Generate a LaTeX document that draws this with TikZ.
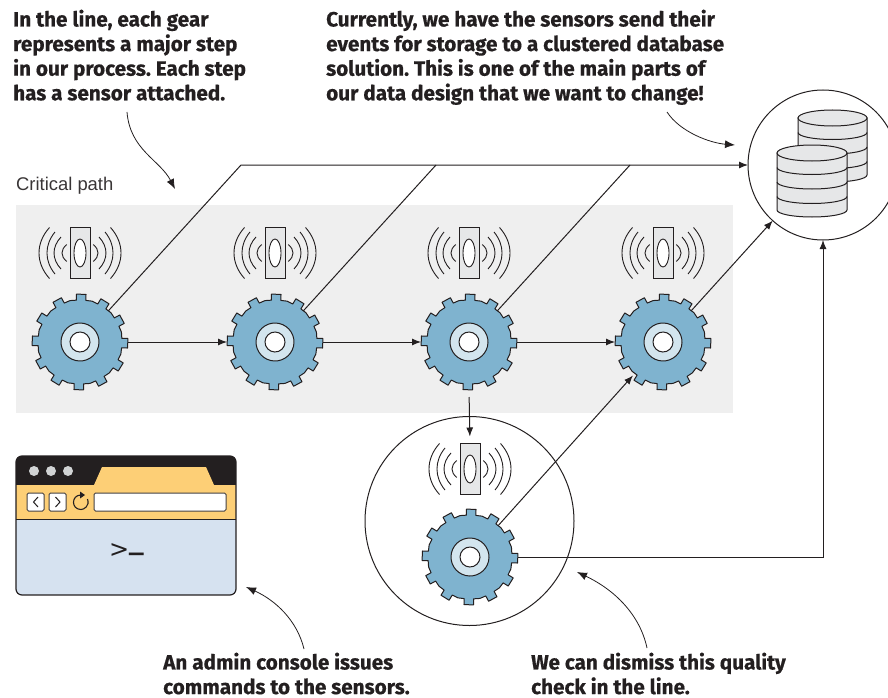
\documentclass[tikz,border=0pt]{standalone}
\usepackage{fontspec}
\setmainfont{Liberation Sans}
\newfontfamily\notefont[BoldFeatures={FakeBold=0.5}]{Fira Sans}
\newfontfamily\promptfont{DejaVu Sans}
\usetikzlibrary{arrows.meta,calc,shapes.geometric}
\definecolor{ink}{HTML}{231F20}
\definecolor{band}{HTML}{EFEFEF}
\definecolor{gearblue}{HTML}{7FB3CF}
\definecolor{hubblue}{HTML}{D3E5EE}
\definecolor{sensorgrey}{HTML}{E6E7E8}
\definecolor{tan}{HTML}{FDCF76}
\definecolor{paneblue}{HTML}{D6E2F0}
\definecolor{dotgrey}{HTML}{D1D3D4}
\tikzset{
  x=1pt,y=-1pt,
  line/.style={draw=ink,line width=1pt},
  flow/.style={line,-{Latex[length=9pt,width=7pt]}},
  callout/.style={draw=ink,line width=0.8pt,-{Latex[length=10pt,width=8pt]}},
  note/.style={font=\notefont\bfseries\frenchspacing\fontsize{20.7}{24.6}\selectfont,text=ink,anchor=north west,align=left,inner sep=0pt},
  gearspot/.style={circle,minimum size=96pt,inner sep=0pt,outer sep=0pt},
  sensorbox/.style={rectangle,draw=ink,line width=1pt,fill=sensorgrey,minimum width=20pt,minimum height=51pt,inner sep=0pt,outer sep=0pt},
  waves/.style={draw=ink,line width=0.9pt},
  browserline/.style={draw=ink!85,line width=1pt},
}
\newcommand{\gearspotat}[3]{\node[gearspot] (#1) at (#2,#3) {};}
\newcommand{\drawgear}[1]{%
  \begin{scope}[shift={(#1.center)},rotate=-1.5]
    \draw[draw=ink,line width=1pt,fill=gearblue,line join=round]
      (-6.5:42) \foreach \a in {0,30,...,330} {
        -- (\a-6.5:42) -- (\a-5.7:48) -- (\a+5.7:48) -- (\a+6.5:42) -- (\a+15:42.6)
      } -- cycle;
    \draw[draw=ink,line width=1pt,fill=hubblue] (0,0) circle[radius=19pt];
    \draw[draw=ink,line width=1pt,fill=white] (0,0) circle[radius=10pt];
  \end{scope}}
\newcommand{\drawsensor}[3]{%
  \node[sensorbox] (#1) at (#2,#3) {};
  \begin{scope}[shift={(#1.center)}]
    \draw[draw=ink,line width=0.9pt,fill=white] (0,0) ellipse[x radius=6pt,y radius=14pt];
    \foreach \s in {-1,1} {
      \draw[waves] (\s*30.5,-25.5) .. controls (\s*44.5,-10) and (\s*44.5,10) .. (\s*30.5,25.5);
      \draw[waves] (\s*25,-21) .. controls (\s*35.7,-8) and (\s*35.7,8) .. (\s*25,21);
      \draw[waves] (\s*19,-16) .. controls (\s*28.3,-6) and (\s*28.3,6) .. (\s*19,16);
      \draw[waves] (\s*13.3,-8.5) .. controls (\s*19.6,-3) and (\s*19.6,3) .. (\s*13.3,8.5);
    }
  \end{scope}}
\begin{document}
\begin{tikzpicture}
\path[use as bounding box,clip] (0,0) rectangle (888,698);
% band
\fill[band] (16,205) rectangle (733,413);
% quality-check circle
\node[circle,draw=ink,line width=1pt,minimum size=209pt,inner sep=0pt,outer sep=0pt] (check) at (469.5,521) {};
% anchors
\gearspotat{g1}{80}{342}
\gearspotat{g2}{275}{342}
\gearspotat{g3}{469}{342}
\gearspotat{g4}{663}{342}
\gearspotat{g5}{470}{557}
\node[circle,draw=ink,line width=1pt,fill=white,minimum size=150pt,inner sep=0pt,outer sep=0pt] (db) at (823,165) {};
\coordinate (c1) at (241,165);
\coordinate (c2) at (436,165);
\coordinate (c3) at (630,165);
% connectors under the gears
\draw[flow] (g1.center) -- (c1) -- (db.west);
\draw[line] (g2.center) -- (c2);
\draw[line] (g3.center) -- (c3);
\draw[flow] (g4.center) -- (db);
\draw[flow,shorten >=45pt] (g5.center) -- (g4.center);
\draw[flow] (g5.center) -| (db.south);
% gears and sensors
\foreach \g in {g1,g2,g3,g4,g5} {\drawgear{\g}}
\drawsensor{s1}{80}{253}
\drawsensor{s2}{275}{253}
\drawsensor{s3}{469}{253}
\drawsensor{s4}{663}{253}
\drawsensor{s5}{470}{469}
% gear to gear
\draw[flow] (g1.east) -- (g2.west);
\draw[flow] (g2.east) -- (g3.west);
\draw[flow] (g3.east) -- (g4.west);
\draw[flow,shorten <=7pt,shorten >=7pt] (g3.south) -- (s5.north);
% database
\begin{scope}[shift={(798,118)}]
  \draw[draw=ink,line width=1pt,fill=sensorgrey] (0,0) -- (0,57) arc[start angle=180,end angle=360,x radius=34.5pt,y radius=7pt] -- (69,0) -- cycle;
  \foreach \yy in {14.5,29,43.5} {\draw[draw=ink,line width=1pt] (0,\yy) arc[start angle=180,end angle=360,x radius=34.5pt,y radius=7pt];}
  \draw[draw=ink,line width=1pt,fill=sensorgrey] (34.5,0) ellipse[x radius=34.5pt,y radius=8pt];
\end{scope}
\begin{scope}[shift={(777,153)}]
  \draw[draw=ink,line width=1pt,fill=sensorgrey] (0,0) -- (0,57) arc[start angle=180,end angle=360,x radius=35pt,y radius=7pt] -- (70,0) -- cycle;
  \foreach \yy in {14.5,29,43.5} {\draw[draw=ink,line width=1pt] (0,\yy) arc[start angle=180,end angle=360,x radius=35pt,y radius=7pt];}
  \draw[draw=ink,line width=1pt,fill=sensorgrey] (35,0) ellipse[x radius=35pt,y radius=8pt];
\end{scope}
% browser
\begin{scope}
  \clip[rounded corners=6pt] (16,456) rectangle (236,595);
  \fill[paneblue] (16,456) rectangle (236,595);
  \fill[tan] (16,485) rectangle (236,519);
  \fill[ink] (16,456) rectangle (236,485);
  \fill[tan] (94,485) -- (102,467) -- (206,467) -- (214,485) -- cycle;
\end{scope}
\draw[draw=ink,line width=1pt] (16,519) -- (236,519);
\draw[draw=ink,line width=1.2pt,rounded corners=6pt] (16,456) rectangle (236,595);
\foreach \xx in {34,51,68} {\fill[dotgrey] (\xx,471) circle[radius=5pt];}
\draw[browserline,fill=white,rounded corners=1.5pt] (27,493) rectangle (44,511);
\draw[browserline,fill=white,rounded corners=1.5pt] (49,493) rectangle (66,511);
\draw[browserline,fill=white,rounded corners=1.5pt] (94,493) rectangle (226,511);
\draw[draw=ink,line width=1pt] (38,497) -- (33.5,502) -- (38,507);
\draw[draw=ink,line width=1pt] (55.5,497) -- (60,502) -- (55.5,507);
\draw[draw=ink,line width=1.1pt] (87.5,499) .. controls (90,506) and (84,509.5) .. (81,509.5) .. controls (71,509.5) and (71,495) .. (81,495);
\fill[ink] (85,495) -- (80,491.5) -- (80,498.5) -- cycle;
\node[font=\promptfont\fontsize{24}{24}\selectfont,text=ink,inner sep=0pt,anchor=base west] (prompt) at (109,557) {>\hspace{-1.5pt}\raisebox{-7pt}{\fontsize{37}{37}\selectfont –}};
% texts
\node[font=\fontsize{18.4}{20}\selectfont,text=ink!90,anchor=base west,inner sep=0pt] (crit) at (16,190) {Critical path};
\node[note] (n1) at (13,9.5) {In the line, each gear\\represents a major step\\in our process. Each step\\has a sensor attached.};
\node[note] (n2) at (326,9.5) {Currently, we have the sensors send their\\events for storage to a clustered database\\solution. This is one of the main parts of\\our data design that we want to change!};
\node[note] (n3) at (163,652.5) {An admin console issues\\commands to the sensors.};
\node[note] (n4) at (531,652.5) {We can dismiss this quality\\check in the line.};
% callouts
\coordinate (a1) at (127,112); \coordinate (b1) at (175,189);
\coordinate (a2) at (667,112); \coordinate (b2) at (735,145);
\coordinate (a3) at (304,649); \coordinate (b3) at (246,587);
\coordinate (a4) at (647,648); \coordinate (b4) at (577,572);
\draw[callout] (a1) .. controls (130,150) and (160,160) .. (b1);
\draw[callout] (a2) .. controls (680,132) and (710,143) .. (b2);
\draw[callout] (a3) .. controls (297,620) and (275,600) .. (b3);
\draw[callout] (a4) .. controls (640,615) and (615,590) .. (b4);
\end{tikzpicture}
\end{document}
